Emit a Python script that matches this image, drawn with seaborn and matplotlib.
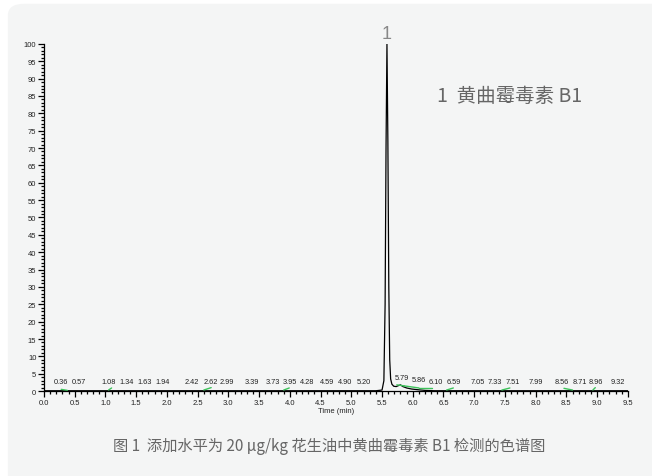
import matplotlib
matplotlib.use("Agg")
import matplotlib.pyplot as plt
from matplotlib.patches import FancyBboxPatch
from matplotlib.ticker import MultipleLocator
import seaborn as sns
import pandas as pd

sns.set_theme(style="white")
plt.rcParams["font.family"] = ["Noto Sans CJK SC", "DejaVu Sans"]

# Chromatogram trace (time in min, relative abundance in %)
trace_time = [0.0, 1.0, 2.0, 3.0, 4.0, 5.0, 5.40, 5.50, 5.53, 5.55, 5.565, 5.58,
              5.595, 5.61, 5.625, 5.64, 5.66, 5.69, 5.73, 5.77, 5.80, 5.84,
              5.90, 5.98, 6.08, 6.20, 6.35, 7.0, 8.0, 9.0, 9.5]
trace_abund = [0.1, 0.1, 0.1, 0.1, 0.1, 0.1, 0.1, 0.3, 3.0, 25.0, 70.0, 100.0,
               72.0, 30.0, 9.0, 3.5, 2.0, 1.4, 1.3, 1.6, 1.8, 1.3,
               0.9, 0.6, 0.4, 0.2, 0.1, 0.1, 0.1, 0.1, 0.1]

# Retention times of minor peaks and where their labels sit on the time axis
peak_times = [0.36, 0.57, 1.08, 1.34, 1.63, 1.94, 2.42, 2.62, 2.99, 3.39, 3.73,
              3.95, 4.28, 4.59, 4.90, 5.20, 5.79, 5.86, 6.10, 6.59, 7.05, 7.33,
              7.51, 7.99, 8.56, 8.71, 8.96, 9.32]
label_pos = [0.27, 0.56, 1.05, 1.34, 1.63, 1.93, 2.41, 2.71, 2.98, 3.39, 3.72,
             4.00, 4.28, 4.60, 4.90, 5.20, 5.82, 6.10, 6.38, 6.67, 7.05, 7.33,
             7.63, 8.00, 8.42, 8.71, 8.98, 9.33]
label_y = [1.7, 1.7, 1.7, 1.7, 1.7, 1.7, 1.7, 1.7, 1.7, 1.7, 1.7,
           1.7, 1.7, 1.7, 1.7, 1.7, 2.9, 2.2, 1.7, 1.7, 1.7, 1.7,
           1.7, 1.7, 1.7, 1.7, 1.7, 1.7]

# Integration baselines of minor peaks: (t_start, t_end, y_start, y_end)
base_t0 = [0.28, 1.05, 2.60, 3.90, 5.74, 5.86, 6.10, 6.55, 7.45, 8.46, 8.93]
base_t1 = [0.38, 1.10, 2.72, 3.99, 5.86, 6.10, 6.32, 6.66, 7.58, 8.60, 8.97]
base_y0 = [0.5, 0.3, 0.3, 0.3, 1.8, 1.5, 0.9, 0.3, 0.3, 0.8, 0.3]
base_y1 = [0.2, 0.9, 1.0, 0.9, 1.5, 0.9, 0.9, 0.9, 0.9, 0.3, 1.0]

main_peak_time = 5.58
main_peak_label = "1"
legend_text = "1  黄曲霉毒素 B1"
caption = "图 1  添加水平为 20 μg/kg 花生油中黄曲霉毒素 B1 检测的色谱图"

fig = plt.figure(figsize=(6.52, 4.77), dpi=100)
fig.patch.set_facecolor("white")
card = FancyBboxPatch((0.012, -0.05), 1.1, 1.04,
                      boxstyle="round,pad=0,rounding_size=0.025",
                      transform=fig.transFigure, facecolor="#f4f5f5",
                      edgecolor="none", zorder=-5)
fig.patches.append(card)

ax = fig.add_axes([0.0675, 0.178, 0.8955, 0.728])
ax.set_zorder(2)
ax.set_facecolor("none")

df = pd.DataFrame({"time": trace_time, "abund": trace_abund})
sns.lineplot(data=df, x="time", y="abund", ax=ax, color="black",
             linewidth=0.9, estimator=None, sort=False)

for t0, t1, y0, y1 in zip(base_t0, base_t1, base_y0, base_y1):
    ax.plot([t0, t1], [y0, y1], color="#3cc25a", linewidth=1.0)

small = ["Liberation Sans", "DejaVu Sans"]
for t, x, y in zip(peak_times, label_pos, label_y):
    ax.text(x, y, f"{t:.2f}", fontsize=5.3, ha="center", va="bottom",
            family=small, color="#222222")

ax.text(main_peak_time, 100.5, main_peak_label, fontsize=13, ha="center",
        va="bottom", color="#888888", family=small)
ax.text(0.673, 0.85, legend_text, transform=ax.transAxes, fontsize=14,
        color="#666666", ha="left", va="center")

ax.set_xlim(0, 9.5)
ax.set_ylim(0, 100)
ax.xaxis.set_minor_locator(MultipleLocator(0.1))
ax.yaxis.set_minor_locator(MultipleLocator(1))
ax.set_xticks([i * 0.5 for i in range(20)])
ax.set_xticklabels([f"{i * 0.5:.1f}" for i in range(20)], family=small)
ax.set_yticks(list(range(0, 101, 5)))
ax.set_yticklabels([str(v) for v in range(0, 101, 5)], family=small)
ax.tick_params(axis="both", which="major", labelsize=5.5, length=4,
               width=0.9, color="black", direction="out", pad=1.5,
               labelcolor="#222222", bottom=True, left=True)
ax.tick_params(axis="both", which="minor", length=2.5, width=0.9,
               color="black", direction="out", bottom=True, left=True)
ax.set_xlabel("Time (min)", fontsize=5.5, family=small, labelpad=1,
              color="#222222")
ax.set_ylabel("")
for side in ("top", "right"):
    ax.spines[side].set_visible(False)
for side in ("left", "bottom"):
    ax.spines[side].set_color("black")
    ax.spines[side].set_linewidth(0.9)

fig.text(0.505, 0.063, caption, fontsize=11, color="#666666",
         ha="center", va="center")

fig.savefig("out.png", dpi=100, facecolor=fig.get_facecolor())
